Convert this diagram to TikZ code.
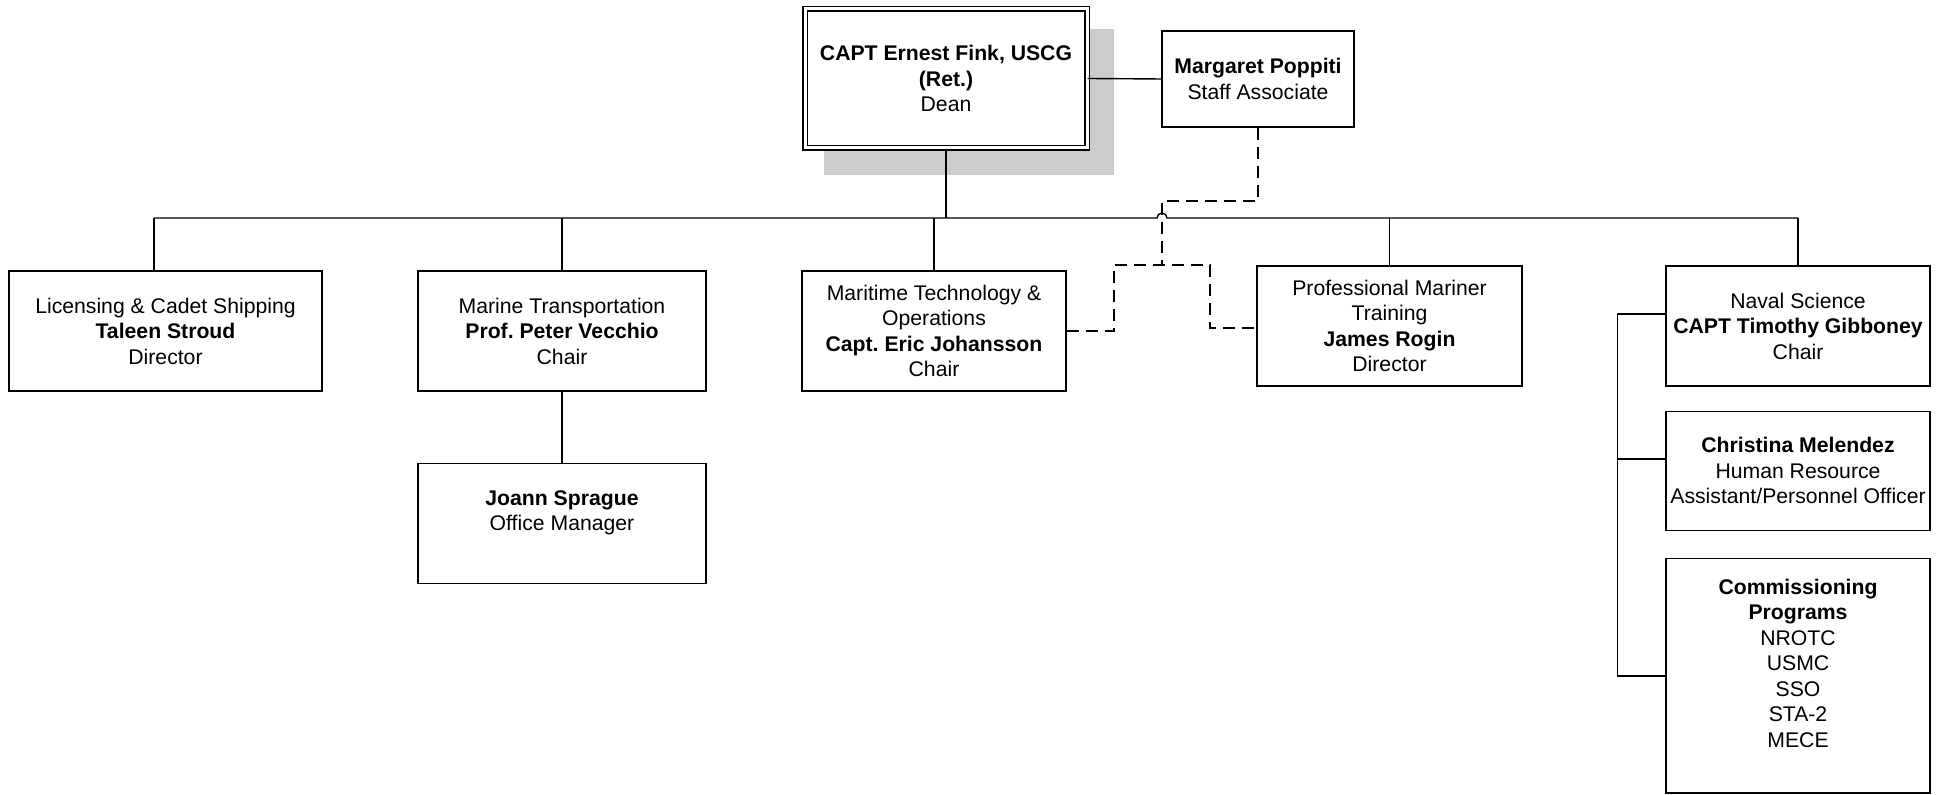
\documentclass[tikz,border=0pt]{standalone}
\usepackage{fontspec}
\setmainfont{Liberation Sans}
\usepackage{tikz}
\usetikzlibrary{positioning}

\tikzset{
  unit/.style={draw, line width=0.7pt, fill=white, align=center, inner sep=0pt,
    font=\fontsize{10.6pt}{12.75pt}\selectfont\frenchspacing},
  dept/.style={unit, minimum width=144pt, minimum height=60pt},
  link/.style={line width=0.7pt},
  dashlink/.style={line width=0.7pt, dash pattern=on 6pt off 3.5pt},
}

\begin{document}
\begin{tikzpicture}[x=0.5pt, y=-0.5pt]
\useasboundingbox (0,0) rectangle (1942,795);

%% dean and staff
\fill[black!20] (824,29) rectangle (1114,175);
\node[unit, double, double distance=1.5pt, minimum width=141pt, minimum height=69.5pt] (dean) at (946,78.5) {\textbf{CAPT Ernest Fink, USCG}\\ \textbf{(Ret.)}\\ Dean};
\node[unit, minimum width=96pt, minimum height=48pt] (marg) at (1258,79) {\textbf{Margaret Poppiti}\\ Staff Associate};

%% departments
\node[dept, minimum width=156.5pt] (lic) at (165.5,331) {Licensing \& Cadet Shipping\\ \textbf{Taleen Stroud}\\ Director};
\node[dept] (marine) at (562,331) {Marine Transportation\\ \textbf{Prof. Peter Vecchio}\\ Chair};
\node[dept, below=35.5pt of marine] (joann) {\textbf{Joann Sprague}\\ Office Manager\\ ~};

\node[dept, minimum width=132pt] (mar) at (934,331) {Maritime Technology \&\\ Operations\\ \textbf{Capt. Eric Johansson}\\ Chair};
\node[dept, minimum width=132.5pt] (prof) at (1389.5,326) {Professional Mariner\\ Training\\ \textbf{James Rogin}\\ Director};

\node[dept, minimum width=132pt] (naval) at (1798,326) {Naval Science\\ \textbf{CAPT Timothy Gibboney}\\ Chair};
\node[dept, minimum width=132pt, minimum height=59.5pt, below=12pt of naval] (hr) {\textbf{Christina Melendez}\\ Human Resource\\ Assistant/Personnel Officer};
\node[dept, minimum width=132pt, minimum height=117pt, below=13.5pt of hr] (comm) {\textbf{Commissioning}\\ \textbf{Programs}\\ NROTC\\ USMC\\ SSO\\ STA-2\\ MECE\\ ~};

%% bus
\coordinate (busL) at (154,218);
\coordinate (busR) at (1798,218);
\coordinate (hop) at (1162,218);
\draw[link] (busL) -- ([xshift=-2.5pt]hop) arc[start angle=180, end angle=0, radius=2.5pt] -- (busR);

\draw[link] (busL) -- (busL |- lic.north);
\draw[link] (marine.north |- busL) -- (marine.north);
\draw[link] (mar.north |- busL) -- (mar.north);
\draw[link] (prof.north |- busL) -- (prof.north);
\draw[link] (busR) -- (naval.north);
\draw[link] (dean.south) -- (dean.south |- busL);
\draw[link] (dean.east) -- (marg.west);
\draw[link] (marine) -- (joann);

%% naval science side
\draw[link] ([yshift=6pt]naval.west) -- ++(-48,0) |- (comm.west);
\draw[link] ([yshift=6pt]hr.west) -- ++(-48,0);

%% dotted reporting
\coordinate (dl1) at (1162,201);
\coordinate (dl3) at (1114,265);
\coordinate (dl4) at (1210,265);
\draw[dashlink] (marg.south) |- (dl1) -- (hop |- dl3);
\draw[dashlink] (mar.east) -| (dl3) -- (dl4) |- ([yshift=-1pt]prof.west);

\end{tikzpicture}
\end{document}
